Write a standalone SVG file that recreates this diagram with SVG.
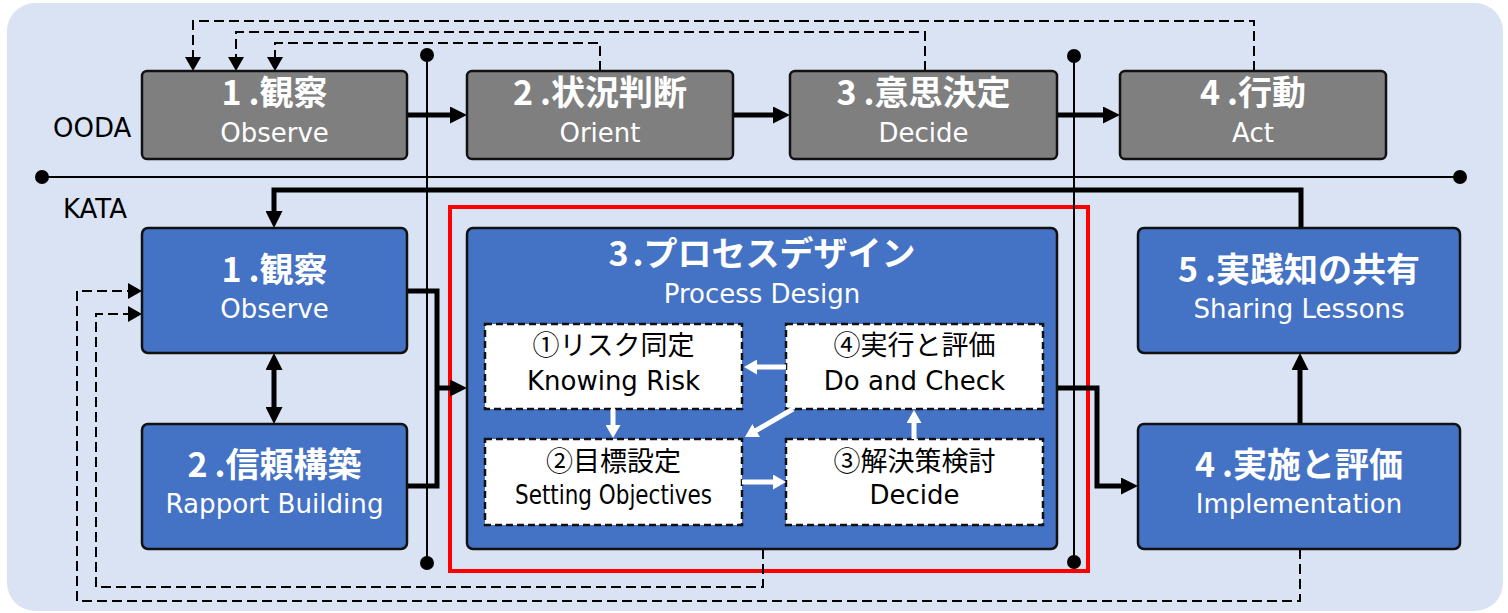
<svg xmlns="http://www.w3.org/2000/svg" width="1508" height="613" viewBox="0 0 1508 613">
<style>
.bg{fill:#dae3f3}
.ooda{fill:#7f7f7f;stroke:#111;stroke-width:2.5}
.kata{fill:#4472c4;stroke:#111;stroke-width:2.5}
.sub{fill:#fff;stroke:#111;stroke-width:2.5;stroke-dasharray:7 4}
.ttl{font-family:"Noto Sans CJK JP",sans-serif;font-weight:bold;font-size:34px;fill:#fff;text-anchor:middle}
.en{font-family:"DejaVu Sans",sans-serif;font-size:26px;fill:#fff;text-anchor:middle}
.jp{font-family:"Noto Sans CJK JP",sans-serif;font-size:27px;fill:#000;text-anchor:middle}
.enb{font-family:"DejaVu Sans",sans-serif;font-size:26px;fill:#000;text-anchor:middle}
.lbl{font-family:"DejaVu Sans",sans-serif;font-size:26px;fill:#000}
.thick{fill:none;stroke:#000;stroke-width:5}
.thin{fill:none;stroke:#000;stroke-width:2}
.dash{fill:none;stroke:#000;stroke-width:2;stroke-dasharray:10 5}
.warr{fill:none;stroke:#fff;stroke-width:5}
</style>
<defs>
<marker id="ah" markerUnits="userSpaceOnUse" markerWidth="17" markerHeight="17" refX="7" refY="8.5" orient="auto-start-reverse" viewBox="0 0 17 17"><path d="M0,0 L17,8.5 L0,17 z" fill="#000"/></marker>
<marker id="dh" markerUnits="userSpaceOnUse" markerWidth="14" markerHeight="16" refX="4" refY="8" orient="auto" viewBox="0 0 14 16"><path d="M0,0 L14,8 L0,16 z" fill="#000"/></marker>
<marker id="wh" markerUnits="userSpaceOnUse" markerWidth="13" markerHeight="15" refX="5" refY="7.5" orient="auto" viewBox="0 0 13 15"><path d="M0,0 L13,7.5 L0,15 z" fill="#fff"/></marker>
</defs>
<rect class="bg" x="7" y="3" width="1496" height="608" rx="28"/>
<text class="lbl" x="53" y="137">OODA</text>
<text class="lbl" x="63" y="218">KATA</text>
<rect x="450" y="207" width="638" height="364" fill="none" stroke="#ff0000" stroke-width="4"/>
<g id="connectors">
<path class="thin" d="M42,177 H1460"/>
<circle cx="42" cy="177" r="7"/><circle cx="1460" cy="177" r="7"/>
<path class="thick" d="M407,115 H457" marker-end="url(#ah)"/>
<path class="thick" d="M733,115 H780" marker-end="url(#ah)"/>
<path class="thick" d="M1057,115 H1110" marker-end="url(#ah)"/>
<path class="dash" d="M1254,71 V21 H193 V61" marker-end="url(#dh)"/>
<path class="dash" d="M925,71 V32 H236 V61" marker-end="url(#dh)"/>
<path class="dash" d="M600,71 V43 H275 V61" marker-end="url(#dh)"/>
<path class="thick" d="M1301,228 V190 H274 V218" marker-end="url(#ah)"/>
<path class="thick" d="M274,363 V414" marker-start="url(#ah)" marker-end="url(#ah)"/>
<path class="thick" d="M407,291 H437 V486 H407"/>
<path class="thick" d="M437,388 H457" marker-end="url(#ah)"/>
<path class="thick" d="M1057,388 H1097 V486 H1128" marker-end="url(#ah)"/>
<path class="thick" d="M1300,424 V363" marker-end="url(#ah)"/>
<path class="dash" d="M1300,549 V601 H77 V291 H132" marker-end="url(#dh)"/>
<path class="dash" d="M763,549 V587 H96 V314 H132" marker-end="url(#dh)"/>
<path class="thin" d="M427,55 V563"/>
<circle cx="427" cy="55" r="7"/><circle cx="427" cy="563" r="7"/>
<path class="thin" d="M1074,56 V562"/>
<circle cx="1074" cy="56" r="7"/><circle cx="1074" cy="562" r="7"/>
</g>
<g id="ooda1"><rect class="ooda" x="142" y="71" width="265" height="88" rx="5"/>
<text class="ttl" x="274.5" y="105">1<tspan dx="7">.観察</tspan></text><text class="en" x="274.5" y="142">Observe</text></g>
<g id="ooda2"><rect class="ooda" x="467" y="71" width="266" height="88" rx="5"/>
<text class="ttl" x="600" y="105">2<tspan dx="7">.状況判断</tspan></text><text class="en" x="600" y="142">Orient</text></g>
<g id="ooda3"><rect class="ooda" x="790" y="71" width="267" height="88" rx="5"/>
<text class="ttl" x="923.5" y="105">3<tspan dx="7">.意思決定</tspan></text><text class="en" x="923.5" y="142">Decide</text></g>
<g id="ooda4"><rect class="ooda" x="1120" y="71" width="266" height="88" rx="5"/>
<text class="ttl" x="1253" y="105">4<tspan dx="7">.行動</tspan></text><text class="en" x="1253" y="142">Act</text></g>
<g id="kata1"><rect class="kata" x="142" y="228" width="265" height="125" rx="6"/>
<text class="ttl" x="274.5" y="282">1<tspan dx="7">.観察</tspan></text><text class="en" x="274.5" y="318">Observe</text></g>
<g id="kata2"><rect class="kata" x="142" y="424" width="265" height="125" rx="6"/>
<text class="ttl" x="274.5" y="477">2<tspan dx="7">.信頼構築</tspan></text><text class="en" x="274.5" y="513" textLength="218" lengthAdjust="spacingAndGlyphs">Rapport Building</text></g>
<g id="kata3"><rect class="kata" x="467" y="228" width="590" height="321" rx="6"/>
<text class="ttl" x="762" y="266">3<tspan dx="4">.プロセスデザイン</tspan></text><text class="en" x="762" y="303">Process Design</text>
<rect class="sub" x="485" y="324" width="257" height="85"/>
<text class="jp" x="613.5" y="355">①リスク同定</text><text class="enb" x="613.5" y="390">Knowing Risk</text>
<rect class="sub" x="786" y="324" width="257" height="85"/>
<text class="jp" x="914.5" y="355">④実行と評価</text><text class="enb" x="914.5" y="390">Do and Check</text>
<rect class="sub" x="485" y="439" width="257" height="86"/>
<text class="jp" x="613.5" y="471">②目標設定</text><text class="enb" x="613.5" y="504" textLength="197" lengthAdjust="spacingAndGlyphs">Setting Objectives</text>
<rect class="sub" x="786" y="439" width="257" height="86"/>
<text class="jp" x="914.5" y="471">③解決策検討</text><text class="enb" x="914.5" y="504">Decide</text>
<path class="warr" d="M786,367 H752" marker-end="url(#wh)"/>
<path class="warr" d="M613,409 V430" marker-end="url(#wh)"/>
<path class="warr" d="M793,409 L751.9,433" marker-end="url(#wh)"/>
<path class="warr" d="M742,482 H778" marker-end="url(#wh)"/>
<path class="warr" d="M914,439 V418" marker-end="url(#wh)"/>
</g>
<g id="kata5"><rect class="kata" x="1138" y="228" width="322" height="125" rx="6"/>
<text class="ttl" x="1299" y="282">5<tspan dx="7">.実践知の共有</tspan></text><text class="en" x="1299" y="318">Sharing Lessons</text></g>
<g id="kata4"><rect class="kata" x="1138" y="424" width="322" height="125" rx="6"/>
<text class="ttl" x="1299" y="477">4<tspan dx="7">.実施と評価</tspan></text><text class="en" x="1299" y="513">Implementation</text></g>
</svg>
